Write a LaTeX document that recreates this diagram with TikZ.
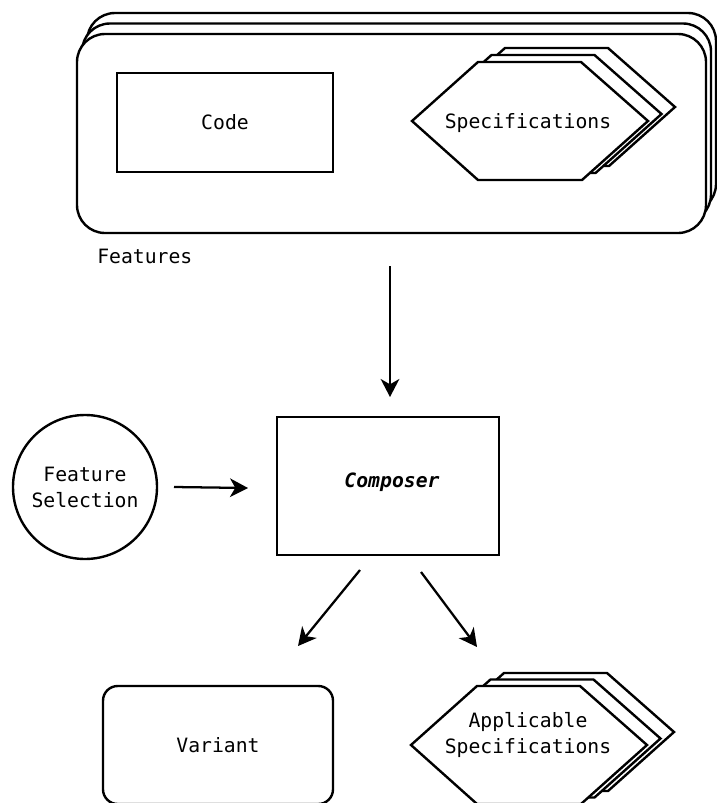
\documentclass[tikz,border=0pt]{standalone}
\usepackage{fontspec}
\setmonofont{DejaVu Sans Mono}
\usetikzlibrary{arrows.meta,calc}

\tikzset{
  lbl/.style={font=\ttfamily\fontsize{14.8}{19.5}\selectfont, inner sep=0pt, align=center},
  shapeline/.style={draw=black, line width=1.8pt, fill=white},
  featbox/.style={shapeline, rounded corners=21pt, minimum width=471.75pt, minimum height=149.25pt, inner sep=0pt},
  arr/.style={line width=1.7pt, -{Stealth[length=13.5pt, width=14pt, inset=4pt]}},
  hexa/.pic={\draw[shapeline, line join=miter] (-118,0) -- (-52,-59) -- (51,-59) -- (118,0) -- (52,59) -- (-52,59) -- cycle;}
}

\begin{document}
\begin{tikzpicture}[x=0.75pt, y=-0.75pt]
  \useasboundingbox (0,0) rectangle (717,803);

  % stacked feature cards
  \node[featbox] (featback) at (401.5,112.5) {};
  \node[featbox] (featmid)  at (396.5,123) {};
  \node[featbox] (features) at (391.5,133.5) {};

  % code module
  \node[shapeline, lbl, minimum width=162pt, minimum height=74.25pt] (code) at (225,122.5) {Code};

  % stacked specification hexagons
  \foreach \d in {2,1,0}
    \pic at ($(530,121)+(13.5*\d,-7*\d)$) {hexa};
  \node[lbl] (spec) at (528,123) {Specifications};

  \node[lbl, anchor=west] (featlabel) at (97,256) {Features};

  % composer and its inputs
  \node[shapeline, minimum width=166.5pt, minimum height=103.5pt] (composer) at (388,486) {};
  \node[lbl] (composertext) at (392,482) {\bfseries\itshape Composer};
  \node[shapeline, lbl, circle, minimum size=108pt] (selection) at (85,487) {Feature\\Selection};

  % outputs
  \node[shapeline, lbl, rounded corners=11pt, minimum width=172.5pt, minimum height=88.5pt] (variant) at (218,745) {Variant};
  \foreach \d in {2,1,0}
    \pic at ($(529,745)+(13.5*\d,-6.5*\d)$) {hexa};
  \node[lbl] (appspec) at (528,735) {Applicable\\Specifications};

  % arrow end points
  \coordinate (f0) at (390,266);
  \coordinate (f1) at (390,397);
  \coordinate (s0) at (174,487);
  \coordinate (s1) at (248,488);
  \coordinate (v0) at (360,570);
  \coordinate (v1) at (298,646);
  \coordinate (a0) at (421,572);
  \coordinate (a1) at (477,647);

  \draw[arr] (f0) -- (f1);
  \draw[arr] (s0) -- (s1);
  \draw[arr] (v0) -- (v1);
  \draw[arr] (a0) -- (a1);
\end{tikzpicture}
\end{document}
